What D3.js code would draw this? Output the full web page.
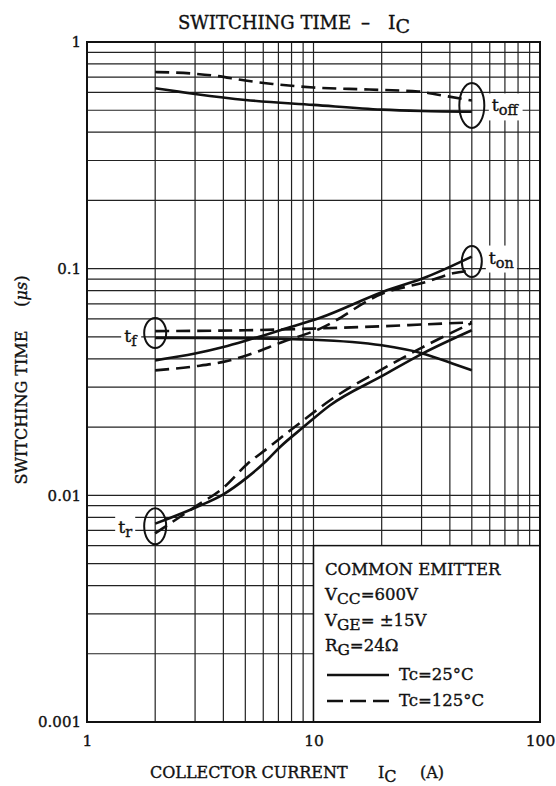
<!DOCTYPE html>
<html>
<head>
<meta charset="utf-8">
<script src="https://cdn.jsdelivr.net/npm/d3@7/dist/d3.min.js"></script>
<style>
  html, body { margin: 0; padding: 0; background: #fff; }
  svg { display: block; }
  text { font-family: "DejaVu Serif", "Liberation Serif", serif; fill: #111; stroke: #111; stroke-width: 0.35px; }
</style>
</head>
<body>
<svg id="chart" width="556" height="786"></svg>
<script>
// ---------- data ----------
const xTickLabels = [1, 10, 100];
const yTickLabels = [0.001, 0.01, 0.1, 1];

const toff25  = [[2,0.625],[3,0.59],[5,0.555],[10,0.528],[20,0.503],[30,0.496],[50,0.492]];
const toff125 = [[2,0.737],[2.9,0.726],[3.6,0.712],[5,0.676],[6.6,0.653],[10,0.63],[17.6,0.617],[29,0.605],[36,0.584],[50,0.552]];
const ton25   = [[2,0.0394],[3,0.0422],[4,0.0451],[5.1,0.0483],[7.3,0.0539],[10.7,0.0607],[20.3,0.0791],[31.7,0.0921],[50,0.113]];
const ton125  = [[2,0.0356],[3,0.0371],[4,0.0388],[5.1,0.0415],[7.3,0.0475],[10.7,0.0544],[20.3,0.0778],[31.7,0.0876],[41.3,0.0954],[50,0.098]];
const tf25    = [[2,0.0495],[5,0.0493],[10,0.0486],[20,0.0459],[30,0.0424],[41,0.0382],[50,0.0356]];
const tf125   = [[2,0.053],[5,0.0535],[10,0.0544],[20,0.0557],[30,0.0567],[50,0.058]];
const tr25    = [[2,0.0075],[3,0.00882],[4,0.0101],[5.1,0.012],[6.2,0.0142],[7.1,0.0163],[9,0.01995],[11.8,0.0249],[20.3,0.0338],[30.4,0.0423],[50,0.0535]];
const tr125   = [[2,0.0068],[3,0.0089],[4,0.0108],[5.1,0.01374],[6.2,0.016],[9,0.0214],[11.8,0.0262],[20.3,0.0362],[30.4,0.0451],[50,0.0576]];

// curve markers
const markers = [
  {name:"toff", x:50, y:0.525, rx:12.5, ry:22.5, main:"t", sub:"off"},
  {name:"ton",  x:50, y:0.1075, rx:10, ry:15.5, main:"t", sub:"on"},
  {name:"tf",   x:2,  y:0.052, rx:11, ry:15, main:"t", sub:"f"},
  {name:"tr",   x:2,  y:0.0073, rx:11, ry:18, main:"t", sub:"r"}
];

const legendLines = ["COMMON EMITTER"];

// ---------- layout ----------
const svg = d3.select("#chart");
const L = 87, R = 540, T = 42, B = 722;
const x = d3.scaleLog().domain([1,100]).range([L,R]);
const y = d3.scaleLog().domain([0.001,1]).range([B,T]);

// grid
const gx = x.ticks().filter(v => v > 1 && v < 100);
const gy = y.ticks().filter(v => v > 0.001 && v < 1);
const grid = svg.append("g").attr("stroke","#222").attr("stroke-width",1.2);
grid.selectAll("line.v").data(gx).join("line")
  .attr("x1", d => x(d)).attr("x2", d => x(d)).attr("y1", T).attr("y2", B);
grid.selectAll("line.h").data(gy).join("line")
  .attr("y1", d => y(d)).attr("y2", d => y(d)).attr("x1", L).attr("x2", R);

// axes
const ax = svg.append("g").attr("transform", `translate(0,${B})`)
  .call(d3.axisBottom(x).tickValues(xTickLabels).tickSize(0).tickPadding(13).tickFormat(d3.format("d")));
ax.select(".domain").remove();
ax.selectAll("text").attr("font-size",15.5).attr("font-family","DejaVu Serif").attr("fill","#111");

const ay = svg.append("g").attr("transform", `translate(${L},0)`)
  .call(d3.axisLeft(y).tickValues(yTickLabels).tickSize(0).tickPadding(6).tickFormat(d => String(d)));
ay.select(".domain").remove();
ay.selectAll("text").attr("font-size",15).attr("font-family","DejaVu Serif").attr("fill","#111");

// legend box
const lb = svg.append("g");
lb.append("rect").attr("x", x(10)).attr("y", y(0.006)).attr("width", R - x(10)).attr("height", B - y(0.006))
  .attr("fill","#fff").attr("stroke","#111").attr("stroke-width",1.5);

// curves
const line = d3.line().x(d => x(d[0])).y(d => y(d[1])).curve(d3.curveMonotoneX);
const series = [
  {d: toff25, dash: null}, {d: toff125, dash: "14,7"},
  {d: ton25, dash: null},  {d: ton125, dash: "14,7"},
  {d: tf25, dash: null},   {d: tf125, dash: "14,7"},
  {d: tr25, dash: null},   {d: tr125, dash: "14,7"}
];
svg.append("g").selectAll("path").data(series).join("path")
  .attr("d", s => line(s.d)).attr("fill","none").attr("stroke","#111")
  .attr("stroke-width",2.6).attr("stroke-dasharray", s => s.dash);

// markers
const mg = svg.append("g");
markers.forEach(m => {
  const cx = x(m.x), cy = y(m.y);
  mg.append("ellipse").attr("cx",cx).attr("cy",cy).attr("rx",m.rx).attr("ry",m.ry)
    .attr("fill","none").attr("stroke","#111").attr("stroke-width",2);
  let tx, ty;
  if (m.name === "toff") { tx = cx + 20; ty = cy + 6; }
  else if (m.name === "ton") { tx = cx + 17; ty = cy + 2; }
  else if (m.name === "tf") { tx = cx - 31; ty = cy + 9; }
  else { tx = cx - 37; ty = cy + 7; }
  const g = mg.append("g");
  const t = g.append("text").attr("x",tx).attr("y",ty).attr("font-size",17.5);
  t.append("tspan").text(m.main);
  t.append("tspan").attr("font-size",14.5).attr("dy",4).text(m.sub);
  const bb = t.node().getBBox();
  g.insert("rect","text").attr("x",bb.x-3).attr("y",bb.y-2).attr("width",bb.width+6).attr("height",bb.height+4).attr("fill","#fff");
});

// border
svg.append("rect").attr("x",L).attr("y",T).attr("width",R-L).attr("height",B-T)
  .attr("fill","none").attr("stroke","#111").attr("stroke-width",2);

// legend texts
const lx = 325;
lb.append("text").attr("x",lx).attr("y",575).attr("font-size",16.5).text(legendLines[0]);
function subText(yy, main, sub, rest) {
  const t = lb.append("text").attr("x",lx).attr("y",yy).attr("font-size",16.5);
  t.append("tspan").text(main);
  t.append("tspan").attr("font-size",15.5).attr("dy",4).text(sub);
  t.append("tspan").attr("dy",-4).text(rest);
}
subText(600, "V", "CC", "=600V");
subText(626, "V", "GE", "=\u00A0\u00B115V");
subText(651, "R", "G", "=24\u03A9");
lb.append("line").attr("x1",327).attr("x2",389).attr("y1",675).attr("y2",675).attr("stroke","#111").attr("stroke-width",2.6);
lb.append("line").attr("x1",327).attr("x2",389).attr("y1",701).attr("y2",701).attr("stroke","#111").attr("stroke-width",2.6).attr("stroke-dasharray","16,7");
lb.append("text").attr("x",399).attr("y",680).attr("font-size",16.5).text("Tc=25\u00B0C");
lb.append("text").attr("x",399).attr("y",706).attr("font-size",16.5).text("Tc=125\u00B0C");

// title
const title = svg.append("text").attr("y",29).attr("font-size",18);
title.append("tspan").attr("x",178).text("SWITCHING TIME");
title.append("tspan").attr("x",361).text("\u2013");
title.append("tspan").attr("x",388).attr("font-size",19).text("I");
title.append("tspan").attr("font-size",19).attr("dy",4).text("C");

// x label
const xl = svg.append("text").attr("y",778).attr("font-size",16);
xl.append("tspan").attr("x",150).text("COLLECTOR CURRENT");
xl.append("tspan").attr("x",378).text("I");
xl.append("tspan").attr("dy",4).text("C");
xl.append("tspan").attr("x",420).attr("dy",-4).text("(A)");

// y label
const yl = svg.append("text").attr("transform","translate(27,380) rotate(-90)").attr("text-anchor","middle").attr("font-size",16);
yl.append("tspan").text("SWITCHING TIME");
yl.append("tspan").attr("dx",24).text("(");
yl.append("tspan").attr("font-style","italic").text("\u03BCs");
yl.append("tspan").text(")");
</script>
</body>
</html>
